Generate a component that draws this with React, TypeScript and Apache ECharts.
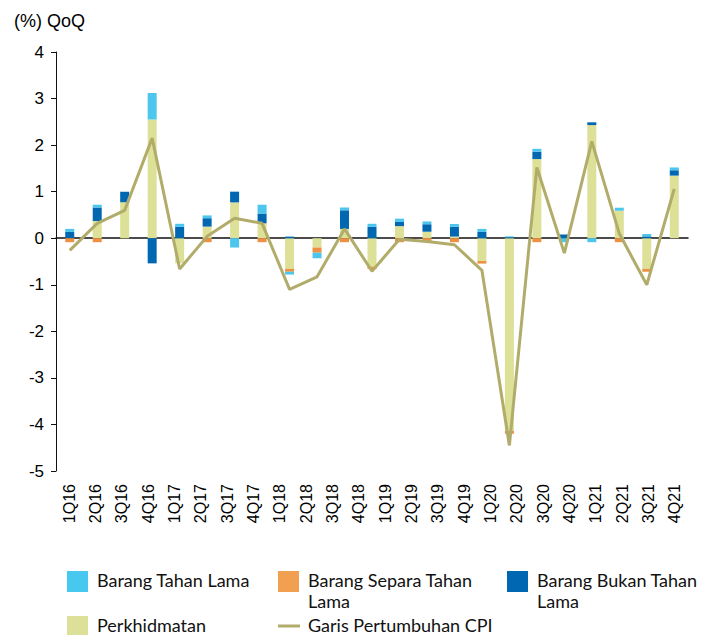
import React, { useEffect, useRef } from "react";
import * as echarts from "echarts";

// Axis labels shown under the chart (24 quarters)
const quarters = [
  "1Q16", "2Q16", "3Q16", "4Q16", "1Q17", "2Q17", "3Q17", "4Q17",
  "1Q18", "2Q18", "3Q18", "4Q18", "1Q19", "2Q19", "3Q19", "4Q19",
  "1Q20", "2Q20", "3Q20", "4Q20", "1Q21", "2Q21", "3Q21", "4Q21",
];

// The plotted series have 23 points spread over the same width
const barPeriods = [
  "P01", "P02", "P03", "P04", "P05", "P06", "P07", "P08", "P09", "P10", "P11", "P12",
  "P13", "P14", "P15", "P16", "P17", "P18", "P19", "P20", "P21", "P22", "P23",
];

const tahanLama = [0.065, 0.06, 0, 0.57, 0.06, 0.06, -0.2, 0.19, -0.06, -0.12, 0.06, 0.06, 0.07, 0.06, 0.06, 0.065, 0.02, 0.06, -0.085, -0.085, 0.065, 0.05, 0.06];
const separaTahanLama = [-0.085, -0.085, 0, 0, 0, -0.085, 0, -0.085, -0.06, -0.11, -0.085, -0.05, -0.085, -0.07, -0.085, -0.055, -0.06, -0.085, 0, 0, -0.085, -0.06, 0];
const bukanTahanLama = [0.135, 0.29, 0.23, -0.54, 0.25, 0.18, 0.23, 0.21, 0.035, 0, 0.4, 0.25, 0.09, 0.16, 0.21, 0.135, 0.02, 0.16, 0.08, 0.06, 0, 0.04, 0.115];
const perkhidmatan = [0, 0.37, 0.77, 2.55, -0.54, 0.25, 0.77, 0.32, -0.66, -0.2, 0.2, -0.61, 0.26, 0.14, 0.035, -0.49, -4.14, 1.7, 0, 2.43, 0.59, -0.66, 1.345];
const cpiGrowth = [-0.26, 0.32, 0.6, 2.15, -0.66, 0.04, 0.43, 0.32, -1.1, -0.83, 0.2, -0.71, -0.02, -0.07, -0.14, -0.69, -4.45, 1.52, -0.32, 2.08, 0.1, -1.0, 1.06];

const C_LIGHT = "#4CC6EC";
const C_ORANGE = "#EF8F42";
const C_DARK = "#0067B0";
const C_YELLOW = "#DDE097";
const C_LINE = "#B2AC6B";

const AXIS_FONT = "'Liberation Sans', Arial, sans-serif";
const LEG_FONT = "Lato, 'Noto Sans', sans-serif";

export default function App() {
  const ref = useRef<HTMLDivElement>(null);
  useEffect(() => {
    if (!ref.current) return;
    const chart = echarts.init(ref.current, undefined, { renderer: "svg" });

    const legendItems = [
      { x: 67, y: 571, ty: 570, lh: 20, color: "#47C8EE", text: "Barang Tahan Lama" },
      { x: 278, y: 571, ty: 569, lh: 21, color: "#F0A050", text: "Barang Separa Tahan\nLama" },
      { x: 507, y: 571, ty: 569, lh: 21, color: "#0068B2", text: "Barang Bukan Tahan\nLama" },
      { x: 67, y: 616, ty: 615, lh: 19, color: "#DDE098", text: "Perkhidmatan" },
    ];
    const graphics: any[] = [
      {
        type: "text",
        left: 14,
        top: 12,
        style: { text: "(%) QoQ", font: `18px ${AXIS_FONT}`, fill: "#000" },
      },
    ];
    legendItems.forEach((it) => {
      graphics.push({
        type: "rect",
        shape: { x: it.x, y: it.y, width: 21, height: 21 },
        style: { fill: it.color },
      });
      graphics.push({
        type: "text",
        x: it.x + 30,
        y: it.ty,
        style: {
          text: it.text,
          font: `18px ${LEG_FONT}`,
          fill: "#111",
          lineHeight: it.lh,
          textVerticalAlign: "top",
        },
      });
    });
    graphics.push({
      type: "line",
      shape: { x1: 278, y1: 626, x2: 300, y2: 626 },
      style: { stroke: C_LINE, lineWidth: 3 },
    });
    graphics.push({
      type: "text",
      x: 308,
      y: 615,
      style: {
        text: "Garis Pertumbuhan CPI",
        font: `18px ${LEG_FONT}`,
        fill: "#111",
        lineHeight: 19,
        textVerticalAlign: "top",
      },
    });

    const barBase = {
      type: "bar",
      xAxisIndex: 1,
      stack: "cpi",
      barWidth: 9,
    };

    chart.setOption({
      animation: false,
      grid: { left: 56, right: 15, top: 52, bottom: 164, containLabel: false },
      xAxis: [
        {
          type: "category",
          data: quarters,
          position: "bottom",
          axisLine: { show: false, onZero: false },
          axisTick: { show: false },
          axisLabel: {
            rotate: 90,
            margin: 13,
            fontFamily: AXIS_FONT,
            fontSize: 16,
            color: "#000",
          },
          splitLine: { show: false },
        },
        {
          type: "category",
          data: barPeriods,
          position: "bottom",
          axisLine: { show: true, onZero: true, lineStyle: { color: "#111", width: 1.5 } },
          axisTick: { show: false },
          axisLabel: { show: false },
          splitLine: { show: false },
        },
      ],
      yAxis: {
        type: "value",
        min: -5,
        max: 4,
        interval: 1,
        axisLine: { show: true, lineStyle: { color: "#111", width: 1 } },
        axisTick: { show: true, length: 5, lineStyle: { color: "#111" } },
        splitLine: { show: false },
        axisLabel: {
          margin: 12,
          fontFamily: AXIS_FONT,
          fontSize: 17,
          color: "#000",
        },
      },
      series: [
        { ...barBase, name: "Perkhidmatan", data: perkhidmatan, itemStyle: { color: C_YELLOW } },
        { ...barBase, name: "Barang Bukan Tahan Lama", data: bukanTahanLama, itemStyle: { color: C_DARK } },
        { ...barBase, name: "Barang Separa Tahan Lama", data: separaTahanLama, itemStyle: { color: C_ORANGE } },
        { ...barBase, name: "Barang Tahan Lama", data: tahanLama, itemStyle: { color: C_LIGHT } },
        {
          type: "line",
          name: "Garis Pertumbuhan CPI",
          xAxisIndex: 1,
          data: cpiGrowth,
          symbol: "none",
          lineStyle: { color: C_LINE, width: 3 },
          z: 5,
        },
      ],
      graphic: graphics,
    });

    return () => chart.dispose();
  }, []);

  return <div ref={ref} style={{ width: 703, height: 635, position: "absolute", left: 0, top: 0 }} />;
}
